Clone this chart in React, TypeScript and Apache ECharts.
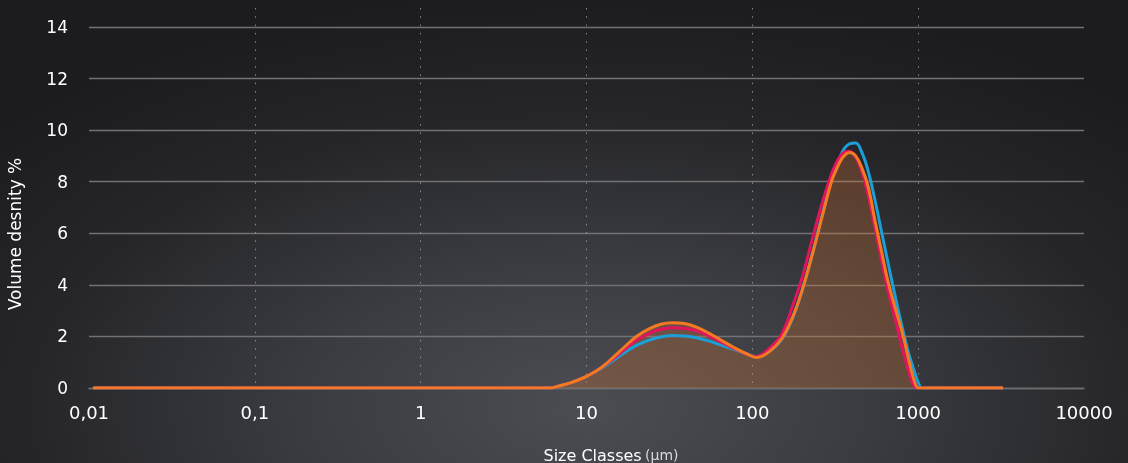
import React, { useEffect, useRef } from "react";
import * as echarts from "echarts";

// Size classes (µm)
const sizes = [0.0106, 6, 7, 8, 9, 10, 12, 14, 17, 20, 24, 28, 33, 39, 46, 55, 65, 77, 92, 106, 125, 150, 175, 200, 230, 260, 300, 320, 340, 360, 385, 420, 460, 500, 550, 600, 650, 700, 760, 820, 880, 940, 1000, 1050, 1100, 3250];

const blueValues = [0, 0, 0.1, 0.2, 0.32, 0.45, 0.72, 1.0, 1.38, 1.65, 1.86, 1.98, 2.04, 2.02, 1.95, 1.82, 1.66, 1.5, 1.33, 1.22, 1.4, 1.88, 2.72, 3.8, 5.2, 6.55, 8.1, 8.6, 9.0, 9.3, 9.47, 9.5, 9.1, 8.4, 7.26, 6.09, 5.02, 4.04, 3.0, 2.07, 1.3, 0.72, 0.22, 0, 0, 0];

const redValues = [0, 0, 0.1, 0.2, 0.32, 0.45, 0.74, 1.05, 1.5, 1.85, 2.12, 2.28, 2.34, 2.32, 2.22, 2.02, 1.78, 1.54, 1.32, 1.22, 1.5, 2.08, 3.19, 4.3, 5.77, 7.04, 8.3, 8.72, 9.0, 9.15, 9.18, 8.95, 8.35, 7.46, 6.18, 4.99, 3.92, 3.09, 2.15, 1.3, 0.6, 0.1, 0, 0, 0, 0];

const orangeValues = [0, 0, 0.1, 0.2, 0.32, 0.45, 0.75, 1.1, 1.6, 2.0, 2.3, 2.47, 2.53, 2.5, 2.36, 2.12, 1.85, 1.58, 1.33, 1.18, 1.38, 1.9, 2.75, 3.8, 5.18, 6.5, 8.0, 8.45, 8.8, 9.02, 9.13, 9.0, 8.5, 7.8, 6.47, 5.33, 4.27, 3.48, 2.67, 1.9, 1.05, 0.35, 0, 0, 0, 0];

const xTickLabels = ["0,01", "0,1", "1", "10", "100", "1000", "10000"];
const yTicks = [0, 2, 4, 6, 8, 10, 12, 14];

const FONT = "DejaVu Sans";

export default function App() {
  const ref = useRef<HTMLDivElement>(null);

  useEffect(() => {
    if (!ref.current) return;
    const chart = echarts.init(ref.current, null, { renderer: "svg" });

    const pairs = (vals: number[]) => sizes.map((s, i) => [s, vals[i]]);

    const lineSeries = (name: string, vals: number[], color: string, area: boolean) => ({
      name,
      type: "line",
      xAxisIndex: 1,
      yAxisIndex: 1,
      data: pairs(vals),
      smooth: 0.4,
      showSymbol: false,
      symbol: "none",
      lineStyle: { color, width: 3 },
      areaStyle: area ? { color: "rgba(236,122,48,0.37)" } : undefined,
      z: 3,
    });

    chart.setOption({
      animation: false,
      backgroundColor: "transparent",
      grid: [
        { left: 89, right: 44, top: 8, bottom: 75 },
        { left: 89, right: 44, top: 27, bottom: 75 },
      ],
      xAxis: [
        {
          type: "log",
          gridIndex: 0,
          logBase: 10,
          min: 0.01,
          max: 10000,
          splitNumber: 6,
          axisLine: { show: false },
          axisTick: { show: false },
          axisLabel: { show: false },
          splitLine: {
            show: true,
            showMinLine: false,
            showMaxLine: false,
            lineStyle: { color: "rgba(170,170,170,0.75)", width: 1, type: [1.5, 6.8] },
          },
        },
        {
          type: "log",
          gridIndex: 1,
          logBase: 10,
          min: 0.01,
          max: 10000,
          splitNumber: 6,
          axisLine: { show: true, lineStyle: { color: "#6e6e70", width: 1.3 } },
          axisTick: { show: false },
          splitLine: { show: false },
          axisLabel: {
            color: "#ffffff",
            fontFamily: FONT,
            fontSize: 18,
            margin: 15,
            formatter: (v: number) => {
              const idx = Math.round(Math.log10(v)) + 2;
              return xTickLabels[idx] ?? "";
            },
          },
        },
      ],
      yAxis: [
        {
          type: "value",
          gridIndex: 0,
          min: 0,
          max: 1,
          show: false,
        },
        {
          type: "value",
          gridIndex: 1,
          min: yTicks[0],
          max: yTicks[yTicks.length - 1],
          interval: 2,
          axisLine: { show: false },
          axisTick: { show: false },
          axisLabel: {
            color: "#ffffff",
            fontFamily: FONT,
            fontSize: 17,
            margin: 21,
          },
          splitLine: {
            show: true,
            lineStyle: { color: "#727274", width: 1.3 },
          },
        },
      ],
      graphic: [
        {
          type: "text",
          x: 15,
          y: 234,
          rotation: Math.PI / 2,
          style: {
            text: "Volume desnity %",
            fill: "#ffffff",
            font: `17px "${FONT}"`,
            align: "center",
            verticalAlign: "middle",
          },
        },
        {
          type: "text",
          x: 611,
          y: 455,
          style: {
            text: "{a|Size Classes} {b|(µm)}",
            align: "center",
            verticalAlign: "middle",
            rich: {
              a: { fill: "#ffffff", fontSize: 16, fontFamily: FONT },
              b: { fill: "#d8d8d8", fontSize: 14, fontFamily: FONT },
            },
          },
        },
      ],
      series: [
        {
          type: "line",
          xAxisIndex: 0,
          yAxisIndex: 0,
          data: [],
          showSymbol: false,
        },
        lineSeries("Blue", blueValues, "#1c9fd8", false),
        lineSeries("Red", redValues, "#e3145e", false),
        lineSeries("Orange", orangeValues, "#f47a22", true),
      ],
    });

    return () => chart.dispose();
  }, []);

  return (
    <div
      ref={ref}
      style={{
        position: "fixed",
        left: 0,
        top: 0,
        width: 1128,
        height: 463,
        background:
          "radial-gradient(ellipse 70% 90% at 52% 88%, #4b4d53 0%, #3a3c41 35%, #26262a 70%, #1c1b1e 100%)",
      }}
    />
  );
}
